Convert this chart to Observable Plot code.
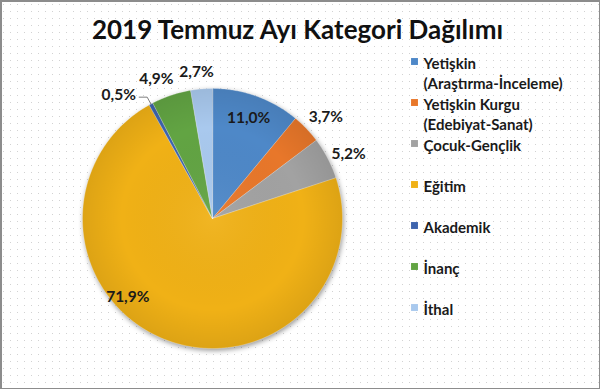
<!DOCTYPE html>
<html>
<head>
<meta charset="utf-8">
<script src="https://cdn.jsdelivr.net/npm/d3@7"></script>
<script src="https://cdn.jsdelivr.net/npm/@observablehq/plot@0.6"></script>
<style>
  html, body { margin: 0; padding: 0; background: #fff; }
  #wrap {
    position: relative; width: 600px; height: 389px; overflow: hidden;
    background-color: #fff;
    background-image: url("data:image/svg+xml,%3Csvg xmlns='http://www.w3.org/2000/svg' width='7' height='7'%3E%3Crect x='3' y='4' width='1' height='1' fill='%23d2d2d2'/%3E%3C/svg%3E");
  }
  #title {
    height: 36px; padding-top: 16px; padding-right: 5px;
    font: bold 26px/26px Lato, "Open Sans", sans-serif; color: #111;
    text-align: center; white-space: nowrap;
  }
  #frame {
    position: absolute; left: 0; top: 0; width: 600px; height: 389px; box-sizing: border-box;
    border: 1px solid #8c8c8c; border-left-width: 2px; border-top-width: 2px; pointer-events: none;
  }
  #wrap svg { display: block; }
</style>
</head>
<body>
<div id="wrap">
  <div id="title">2019 Temmuz Ayı Kategori Dağılımı</div>
  <div id="chart"></div>
  <div id="frame"></div>
</div>
<script>
// ---- data ----
const categories = ["Yetişkin (Araştırma-İnceleme)", "Yetişkin Kurgu (Edebiyat-Sanat)", "Çocuk-Gençlik", "Eğitim", "Akademik", "İnanç", "İthal"];
const legendLabels = ["Yetişkin\n(Araştırma-İnceleme)", "Yetişkin Kurgu\n(Edebiyat-Sanat)", "Çocuk-Gençlik", "Eğitim", "Akademik", "İnanç", "İthal"];
const shares = [11.0, 3.7, 5.2, 71.9, 0.5, 4.9, 2.7];
const valueLabels = ["11,0%", "3,7%", "5,2%", "71,9%", "0,5%", "4,9%", "2,7%"];
const colors = ["#4e88c8", "#e8772a", "#a2a2a2", "#f0b116", "#3e64ad", "#62a443", "#a9c9ee"];

// ---- layout (pixels / angles, not data) ----
const W = 600, H = 337, R = 130, CX = 212, CY = 166;
const labelAngleNudge = [0, 1.9, 2.2, 25.8, -9, -3.3, -1.4];
const labelRadius = [0.82, 1.17, 1.16, 0.89, 1.19, 1.16, 1.13];
const leaderFor = [false, false, false, false, true, false, false];
const legendX = 414, legendTextX = 423, legendY0 = 9, legendStep = 41;

const ux = px => (px - CX) / R;
const uy = py => (CY - py) / R;
const polar = (a, r) => ({x: Math.sin(a) * r, y: Math.cos(a) * r});

const arcs = d3.pie().sort(null).value(d => d)(shares);

const wedgePts = [];
arcs.forEach((a, i) => {
  const n = Math.max(2, Math.ceil((a.endAngle - a.startAngle) / (Math.PI / 360)));
  wedgePts.push({cat: categories[i], x: 0, y: 0});
  for (let k = 0; k <= n; k++) {
    const t = a.startAngle + (a.endAngle - a.startAngle) * k / n;
    wedgePts.push({cat: categories[i], ...polar(t, 1)});
  }
});

const labelData = arcs.map((a, i) => {
  const mid = (a.startAngle + a.endAngle) / 2 + labelAngleNudge[i] * Math.PI / 180;
  return {text: valueLabels[i], ...polar(mid, labelRadius[i])};
});

const leaderPts = [];
arcs.forEach((a, i) => {
  if (!leaderFor[i]) return;
  const mid = (a.startAngle + a.endAngle) / 2;
  const p0 = polar(mid, 1), p1 = polar(mid, 1.06);
  leaderPts.push({g: i, ...p0}, {g: i, ...p1}, {g: i, x: p1.x - 8 / R, y: p1.y});
});

const legendData = categories.map((c, i) => ({
  cat: c, label: legendLabels[i],
  x: ux(legendX), tx: ux(legendTextX), y: uy(legendY0 + legendStep * i)
}));

const defs = () => {
  const g = d3.create("svg:defs");
  const rg = g.append("radialGradient").attr("id", "pieShade")
    .attr("cx", "50%").attr("cy", "50%").attr("r", "50%");
  rg.append("stop").attr("offset", "0%").attr("stop-color", "#fff").attr("stop-opacity", 0.06);
  rg.append("stop").attr("offset", "70%").attr("stop-color", "#000").attr("stop-opacity", 0);
  rg.append("stop").attr("offset", "100%").attr("stop-color", "#000").attr("stop-opacity", 0.08);
  return g.node();
};

const font = "Lato, 'Open Sans', sans-serif";

const plot = Plot.plot({
  width: W, height: H, margin: 0,
  axis: null,
  style: {background: "transparent", overflow: "visible"},
  x: {domain: [ux(0), ux(W)], range: [0, W]},
  y: {domain: [uy(H), uy(0)], range: [H, 0]},
  color: {domain: categories, range: colors},
  marks: [
    defs,
    Plot.line(wedgePts, {x: "x", y: "y", z: "cat", fill: "cat", stroke: "#ffffff", strokeWidth: 0.6, strokeOpacity: 0.5, curve: "linear-closed"}),
    Plot.dot([{x: 0, y: 0}], {x: "x", y: "y", r: R, fill: "url(#pieShade)", stroke: "none"}),
    Plot.line(leaderPts, {x: "x", y: "y", z: "g", stroke: "#7f7f7f", strokeWidth: 1}),
    Plot.text(labelData, {x: "x", y: "y", text: "text", fontSize: 15.5, fontWeight: "bold", fontFamily: font, fill: "#1a1a1a"}),
    Plot.dot(legendData, {x: "x", y: "y", symbol: "square", r: 3.9, fill: "cat", stroke: "none"}),
    Plot.text(legendData, {x: "tx", y: "y", text: "label", textAnchor: "start", lineAnchor: "top", dy: -6.6, lineHeight: 1.333, fontSize: 15, fontWeight: "bold", fontFamily: font, fill: "#1a1a1a"})
  ]
});

d3.select(plot).select("g[aria-label='line']").style("filter", "drop-shadow(1px 2px 2.5px rgba(0,0,0,0.4))");
document.getElementById("chart").appendChild(plot);
</script>
</body>
</html>
